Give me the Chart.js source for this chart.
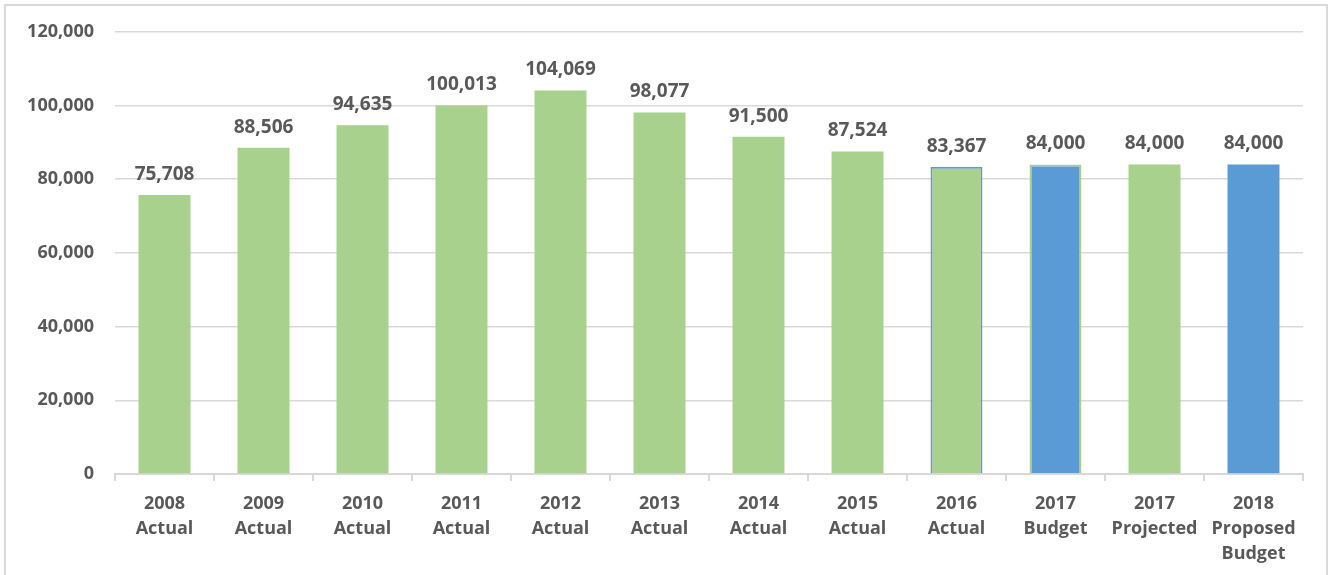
<!DOCTYPE html>
<html>
<head>
<meta charset="utf-8">
<script src="https://cdn.jsdelivr.net/npm/chart.js@4.4.1/dist/chart.umd.min.js"></script>
<style>
  html, body { margin: 0; padding: 0; background: #fff; }
  #frame { position: absolute; left: 4px; top: 4px; width: 1320px; height: 600px; border: 2px solid #d9d9d9; }
  #wrap { position: absolute; left: 0; top: 0; width: 1333px; height: 575px; }
</style>
</head>
<body>
<div id="frame"></div>
<div id="wrap"><canvas id="chart"></canvas></div>
<script>
const years = ["2008", "2009", "2010", "2011", "2012", "2013", "2014", "2015", "2016", "2017", "2017", "2018"];
const kinds = [["Actual"], ["Actual"], ["Actual"], ["Actual"], ["Actual"], ["Actual"], ["Actual"], ["Actual"], ["Actual"], ["Budget"], ["Projected"], ["Proposed", "Budget"]];
const values = [75708, 88506, 94635, 100013, 104069, 98077, 91500, 87524, 83367, 84000, 84000, 84000];
const yTicks = [0, 20000, 40000, 60000, 80000, 100000, 120000];

const green = "#a9d18e";
const blue = "#5b9bd5";
const fills = [green, green, green, green, green, green, green, green, green, blue, green, blue];
const edges = [green, green, green, green, green, green, green, green, blue, green, green, blue];
const edgeWidth = [0, 0, 0, 0, 0, 0, 0, 0, 2, 2, 0, 0];

const labels = years.map((y, i) => [y, ...kinds[i]]);
const font = "'Open Sans'";
const textColor = "#595959";

// numbers above the bars
const valueLabels = {
  id: "valueLabels",
  afterDatasetsDraw(chart) {
    const ctx = chart.ctx;
    const meta = chart.getDatasetMeta(0);
    ctx.save();
    ctx.font = "bold 19px " + font;
    ctx.fillStyle = textColor;
    ctx.textAlign = "center";
    ctx.textBaseline = "bottom";
    meta.data.forEach((bar, i) => {
      ctx.fillText(values[i].toLocaleString("en-US"), bar.x, bar.y - 11);
    });
    ctx.restore();
  }
};

new Chart(document.getElementById("chart"), {
  type: "bar",
  data: {
    labels,
    datasets: [{
      data: values,
      backgroundColor: fills,
      borderColor: edges,
      borderWidth: edgeWidth,
      barPercentage: 0.525,
      categoryPercentage: 1,
    }],
  },
  options: {
    responsive: true,
    maintainAspectRatio: false,
    animation: false,
    layout: { padding: { left: 0, right: 30, top: 31, bottom: 0 } },
    plugins: {
      legend: { display: false },
      tooltip: { enabled: false },
    },
    scales: {
      x: {
        offset: true,
        grid: { offset: true, drawOnChartArea: false, color: "#d9d9d9", tickLength: 7, lineWidth: 2 },
        border: { color: "#d9d9d9", width: 2 },
        ticks: { color: textColor, font: { family: font, size: 18, weight: "bold", lineHeight: 1.4 }, padding: 10, maxRotation: 0, autoSkip: false },
        afterFit: s => { s.height = 101; },
      },
      y: {
        min: 0,
        max: 120000,
        afterBuildTicks: s => { s.ticks = yTicks.map(v => ({ value: v })); },
        grid: { color: "#d9d9d9", lineWidth: 1.5, drawTicks: false },
        border: { display: false },
        ticks: {
          color: textColor,
          font: { family: font, size: 18, weight: "bold" },
          padding: 21,
          callback: v => v.toLocaleString("en-US"),
        },
        afterFit: s => { s.width = 115; },
      },
    },
  },
  plugins: [valueLabels],
});
</script>
</body>
</html>
